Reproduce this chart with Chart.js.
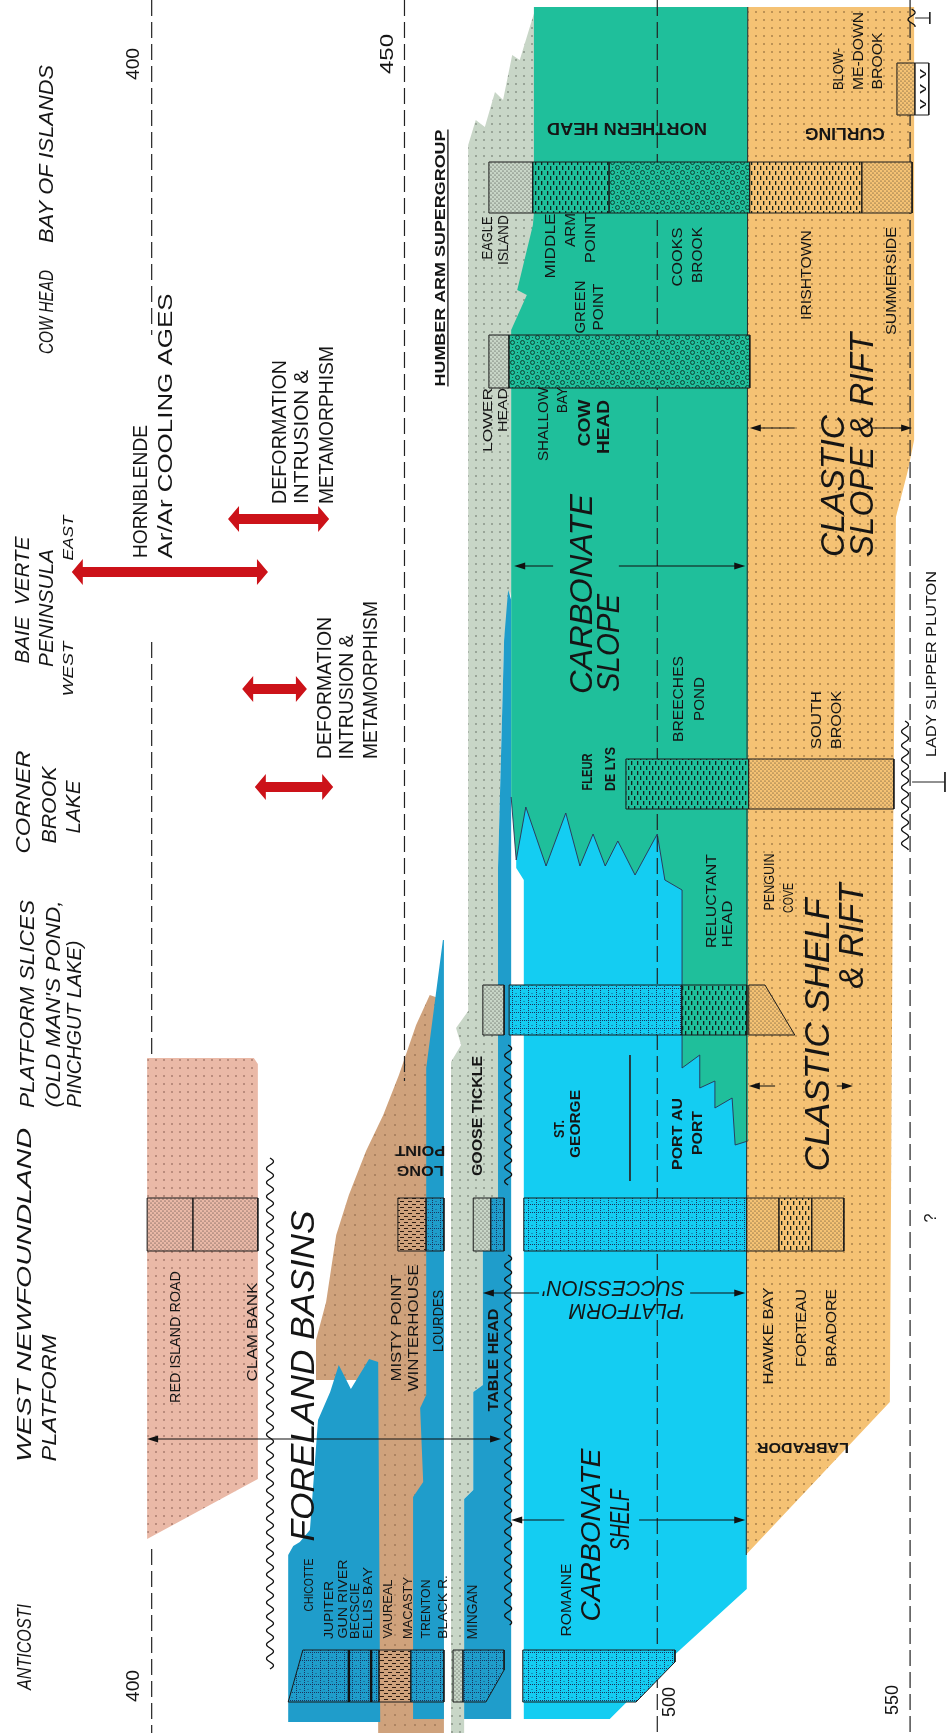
<!DOCTYPE html>
<html>
<head>
<meta charset="utf-8">
<title>Stratigraphic correlation chart</title>
<script src="https://cdn.jsdelivr.net/npm/chart.js@4.4.1/dist/chart.umd.min.js"></script>
<style>
html,body{margin:0;padding:0;background:#ffffff;}
#wrap{width:948px;height:1733px;position:relative;}
canvas{display:block;}
</style>
</head>
<body>
<div id="wrap"><canvas id="chart" width="948" height="1733"></canvas></div>
<script>
// ================= DATA =================
// x = age (Ma), y = position across the correlation panel (column axis, 0 = Anticosti side)
const AGE_TICKS = [400, 450, 500, 550];

// facies belts: [age, column position]
const ORANGE_CLASTIC = [[517.9,172.6],[550.8,172.6],[550.8,129.3],[549.6,126.3],[547.2,121.6],[546.6,86.5],[546.0,33.1],[517.5,17.8]];
const CYAN_SHELF = [[472.1,93.3],[517.7,93.3],[517.7,14.4],[502.3,7.3],[490.6,1.4],[473.6,1.4],[473.6,85.3],[472.1,86.5]];
const GREEN_SLOPE = [[475.6,172.6],[517.9,172.6],[517.9,59.2],[515.4,58.8],[514.8,63.5],[511.4,62.5],[511.4,65.2],[508.4,64.5],[508.4,67.8],[504.9,66.5],[504.9,84.3],[501.5,85.3],[500.0,89.9],[495.6,85.8],[492.2,89.2],[489.7,86.7],[487.3,89.9],[484.7,86.7],[481.9,92.0],[478.0,86.7],[474.0,92.6],[472.1,87.3],[471.1,93.6],[471.1,140.3],[474.2,143.8],[472.3,144.3],[475.4,150.8],[475.6,152.0]];
const GREY_FLYSCH = [[476.0,172.6],[472.8,167.3],[471.3,167.8],[469.5,163.3],[467.9,164.1],[465.9,160.6],[464.1,161.3],[462.6,158.8],[462.6,72.2],[460.2,70.5],[461.2,68.8],[459.2,67.1],[459.2,0],[461.8,0],[461.8,23.4],[463.6,24.3],[463.6,34.1],[465.5,34.8],[465.5,48.2],[468.5,48.8],[468.5,86.5],[469.7,109.3],[471.1,114.3],[471.1,139.3],[475.6,140.3]];
const BLUE_TABLEHEAD = [[470.5,114.3],[471.1,113.3],[471.1,1.4],[461.8,1.4],[461.8,23.4],[463.6,24.3],[463.6,34.1],[465.5,34.8],[465.5,48.2],[468.5,48.8],[468.5,86.5],[469.7,109.3]];
const BLUE_LONGPOINT = [[457.6,79.3],[457.8,79.3],[457.8,1.4],[451.7,1.4],[451.7,23.6],[453.7,25.1],[453.1,32.5],[454.3,33.8],[454.3,66.5]];
const BROWN_FORELAND = [[455.0,73.8],[457.8,73.3],[457.8,0],[444.8,0],[444.4,35.3],[432.5,35.3],[432.5,39.3],[434.5,43.1],[436.5,49.8],[439.0,53.8],[442.4,58.2],[445.8,61.8],[448.9,65.8],[452.3,70.8]];
const BLUE_ANTICOSTI = [[427.0,1.1],[427.0,17.8],[428.0,18.7],[429.3,19.1],[431.3,20.3],[432.9,31.3],[435.3,34.1],[437.0,36.8],[439.4,34.4],[443.0,37.4],[444.8,37.1],[445.2,1.1]];
const PINK_REDISLAND = [[399.1,67.5],[420.2,67.5],[421.0,66.9],[421.0,25.4],[399.1,19.4]];

// stratigraphic column bars: lane [top, bottom] and segments [ageFrom, ageTo, lithology]
const LANE_BAY = [157.1,152.0];
const LANE_COW = [139.8,134.5];
const LANE_CORNER = [97.4,92.4];
const LANE_SLICES = [74.8,69.8];
const LANE_WNP = [53.5,48.2];
const LANE_ANTI = [8.3,3.1];
const BAR_BAY = [[466.7,475.4,'dGrey'],[475.4,490.5,'dashG'],[490.5,518.3,'circ'],[518.3,540.5,'dashO'],[540.5,550.4,'dOrange']];
const BAR_COW = [[466.7,470.7,'dGrey'],[470.7,518.3,'circ']];
const BAR_CORNER = [[493.8,518.1,'dashG'],[518.1,546.8,'dOrange']];
const BAR_SLICES = [[465.5,469.7,'dGrey'],[470.7,504.9,'gridC'],[504.9,517.7,'dashG']];
const BAR_SLICES_WEDGE = [[518.1,74.8],[521.3,74.8],[527.2,69.8],[518.1,69.8]];
const BAR_WNP = [[399.1,408.2,'dPink'],[408.2,421.0,'dPink'],[448.7,454.3,'dashBr'],[454.3,457.8,'gridB'],[463.6,467.1,'dGrey'],[467.1,469.7,'gridB'],[473.6,517.7,'gridC'],[517.7,524.1,'dOrange'],[524.1,530.6,'dashO'],[530.6,536.9,'dOrange']];
const BAR_ANTI = [[445.0,451.3,'dashBr'],[451.3,457.8,'gridB'],[459.6,461.6,'dGrey']];
const BAR_ANTI_WEST = [[429.9,8.3],[445.0,8.3],[445.0,3.1],[427.0,3.1]];
const BAR_ANTI_MINGAN = [[461.6,8.3],[469.7,8.3],[469.7,6.3],[466.1,3.1],[461.6,3.1]];
const BAR_ANTI_ROMAINE = [[473.4,8.3],[503.5,8.3],[503.5,7.1],[495.8,3.1],[473.4,3.1]];
const ANTI_THICK = [439.0, 443.4];

// dashed age lines: age -> list of [yFrom, yTo]
const AGE_LINE_SPANS = {400:[[173.3,139.8],[109.1,67.5],[18.4,0]], 450:[[173.3,65.2]], 500:[[173.3,0]], 550:[[173.3,0]]};

// red event arrows: [ageFrom, ageTo, column]
const RED_ARROWS = [[384.2,423.0,116.1],[415.1,435.1,121.4],[417.9,430.7,104.4],[420.4,435.9,94.6]];
// black span arrows: [ageFrom, ageTo, column, gapFrom, gapTo]
const SPAN_ARROWS = [[399.1,469.1,29.4,null,null],[471.1,517.4,21.3,481.6,496.4],[465.5,517.4,44.0,476.6,506.5],[471.7,517.4,116.7,479.4,492.4],[518.1,538.7,64.7,523.3,535.5],[518.3,550.4,130.5,527.2,542.5]];
// unconformities (wavy): [age, yFrom, yTo]
const UNCONFORMITIES = [[423.4,57.5,6.4],[470.5,68.8,54.8],[470.5,47.8,10.8],[549.0,101.2,88.2],[550.3,172.4,170.6]];
// formation boundary: [age, yFrom, yTo]
const BOUNDARIES = [[494.6,67.8,55.2]];

// ================= STYLE =================
const COL = {orange:'#f5c274', green:'#1fbf9b', cyan:'#14cdf2', blue:'#1f9dcb', grey:'#c8d6c7', brown:'#cfa27c', pink:'#eab9a7', red:'#cc1219'};
function mk(w,h,paint){const c=document.createElement('canvas');c.width=w;c.height=h;const g=c.getContext('2d');paint(g);return g.createPattern(c,'repeat');}
function dot(g,x,y,r){g.beginPath();g.arc(x,y,r,0,Math.PI*2);g.fill();}
function sparse(bg,ink,s){return mk(s,s,g=>{g.fillStyle=bg;g.fillRect(0,0,s,s);g.fillStyle=ink;dot(g,s/2,s/2,0.8);});}
function dense(bg){return mk(4,4,g=>{g.fillStyle=bg;g.fillRect(0,0,4,4);g.fillStyle='rgba(30,30,30,0.85)';dot(g,1,1,0.6);dot(g,3,3,0.6);});}
function grid(bg){return mk(8,8,g=>{g.fillStyle=bg;g.fillRect(0,0,8,8);g.fillStyle='#1b3560';for(let i=0;i<8;i+=2){g.fillRect(0,i,1,1);g.fillRect(i,4,1,1);}dot(g,4,1.5,0.5);});}
function dashV(bg){return mk(6,10,g=>{g.fillStyle=bg;g.fillRect(0,0,6,10);g.fillStyle='#13201c';g.fillRect(1,1,1.3,4);g.fillRect(4,6,1.3,4);});}
const PAT = {
  orange: sparse(COL.orange,'rgba(90,60,30,0.8)',8),
  grey: sparse(COL.grey,'rgba(60,70,60,0.75)',8),
  pink: sparse(COL.pink,'rgba(90,50,40,0.75)',8),
  brown: sparse(COL.brown,'rgba(80,50,30,0.6)',10),
  dGrey: dense(COL.grey), dOrange: dense(COL.orange), dPink: dense(COL.pink),
  dashG: dashV(COL.green), dashO: dashV(COL.orange),
  dashBr: mk(8,6,g=>{g.fillStyle=COL.brown;g.fillRect(0,0,8,6);g.fillStyle='#2a1a10';g.fillRect(0,1,4,1);g.fillRect(4,4,4,1);}),
  circ: mk(10,10,g=>{g.fillStyle=COL.green;g.fillRect(0,0,10,10);g.strokeStyle='#0f352a';g.lineWidth=0.9;g.beginPath();g.arc(2.5,2.5,2,0,7);g.stroke();g.beginPath();g.arc(7.5,7.5,2,0,7);g.stroke();g.fillStyle='#0f352a';dot(g,7.5,2.5,0.5);dot(g,2.5,7.5,0.5);}),
  gridC: grid(COL.cyan), gridB: grid(COL.blue)
};

// ================= DATASETS =================
const datasets = [];
function toXY(pts){return pts.map(p=>({x:p[0],y:p[1]}));}
function poly(pts,bg,border){const d=toXY(pts);d.push({x:pts[0][0],y:pts[0][1]});
  datasets.push({data:d,backgroundColor:bg,borderColor:border?'#1a1a1a':'rgba(0,0,0,0)',borderWidth:border?1:0,fill:'shape',pointRadius:0,tension:0});}
function line(pts,color,width,dash){datasets.push({data:toXY(pts),borderColor:color,borderWidth:width,borderDash:dash||[],fill:false,pointRadius:0,tension:0});}
function bar(lane,segs){segs.forEach(s=>poly([[s[0],lane[0]],[s[1],lane[0]],[s[1],lane[1]],[s[0],lane[1]]],PAT[s[2]],true));}

poly(ORANGE_CLASTIC,PAT.orange);
poly(PINK_REDISLAND,PAT.pink);
poly(BROWN_FORELAND,PAT.brown);
poly(BLUE_ANTICOSTI,COL.blue);
poly(BLUE_LONGPOINT,COL.blue);
poly(GREY_FLYSCH,PAT.grey);
poly(BLUE_TABLEHEAD,COL.blue);
poly(CYAN_SHELF,COL.cyan);
poly(GREEN_SLOPE,COL.green);
line(GREEN_SLOPE.slice(2,23),'#2b2f55',0.9);
line([[517.9,172.6],[517.6,17.8]],'#2a2a2a',1);
BOUNDARIES.forEach(b=>line([[b[0],b[1]],[b[0],b[2]]],'#2a2a2a',1));
AGE_TICKS.forEach(a=>AGE_LINE_SPANS[a].forEach(s=>line([[a,s[0]],[a,s[1]]],'#222',1.2,[16,6])));
bar(LANE_BAY,BAR_BAY);
bar(LANE_COW,BAR_COW);
bar(LANE_CORNER,BAR_CORNER);
bar(LANE_SLICES,BAR_SLICES);
poly(BAR_SLICES_WEDGE,PAT.dOrange,true);
bar(LANE_WNP,BAR_WNP);
poly(BAR_ANTI_WEST,PAT.gridB,true);
bar(LANE_ANTI,BAR_ANTI);
poly(BAR_ANTI_MINGAN,PAT.gridB,true);
poly(BAR_ANTI_ROMAINE,PAT.gridC,true);
ANTI_THICK.forEach(a=>line([[a,LANE_ANTI[0]],[a,LANE_ANTI[1]]],'#111',2.4));
poly([[547.4,167.0],[551.0,167.0],[551.0,161.8],[547.4,161.8]],PAT.dOrange,true);
poly([[551.0,167.0],[553.7,167.0],[553.7,161.8],[551.0,161.8]],'#ffffff',true);
// pluton markers
line([[550.4,95.1],[556.9,95.1]],'#222',1);
line([[556.9,96.1],[556.9,94.1]],'#222',1);
line([[551.0,171.5],[553.9,171.5]],'#222',1);
line([[553.9,172.1],[553.9,170.9]],'#222',1);
datasets.forEach((d,i)=>{d.order=datasets.length-i;});

// ================= LABELS (annotation text) =================
const LABELS = [
 ['BAY OF ISLANDS',378.9,157.9,-90,21,'i',178],['COW HEAD',378.9,142.1,-90,21,'i',84],
 ['BAIE  VERTE',374.2,113.3,-90,21,'i',127],['PENINSULA',378.9,112.5,-90,21,'i',118],
 ['EAST',383.3,119.5,-90,15,'i',45],['WEST',383.3,106.4,-90,15,'i',55],
 ['CORNER',374.5,93.1,-90,21,'i',103],['BROOK',379.5,92.8,-90,21,'i',77],['LAKE',384.4,92.6,-90,21,'i',53],
 ['PLATFORM SLICES',375.3,72.9,-90,21,'i',208],["(OLD MAN'S POND,",380.3,72.9,-90,21,'i',207],['PINCHGUT LAKE)',384.6,70.9,-90,21,'i',167],
 ['WEST NEWFOUNDLAND',374.7,43.8,-90,21,'i',334],['PLATFORM',379.5,33.5,-90,21,'i',127],
 ['ANTICOSTI',374.7,8.6,-90,21,'i',86],
 ['HORNBLENDE',397.7,124.15,-90,20,'',133],['Ar/Ar COOLING AGES',402.6,130.7,-90,20,'',265],
 ['DEFORMATION',425.2,130.1,-90,20,'',144],['INTRUSION &',429.5,129.6,-90,20,'',134],['METAMORPHISM',434.5,130.8,-90,20,'',158],
 ['DEFORMATION',434.1,104.5,-90,20,'',142],['INTRUSION &',438.4,103.6,-90,20,'',125],['METAMORPHISM',443.2,105.3,-90,20,'',158],
 ['HUMBER ARM SUPERGROUP',457.0,147.5,-90,15,'bu',257],
 ['EAGLE',466.3,149.5,-90,14,'',43],['ISLAND',469.5,149.3,-90,14,'',50],
 ['MIDDLE',478.8,148.7,-90,14,'',65],['ARM',482.7,150.3,-90,14,'',34],['POINT',486.7,149.5,-90,14,'',50],
 ['GREEN',484.7,142.6,-90,14,'',53],['POINT',488.3,142.6,-90,14,'',47],
 ['LOWER',466.3,131.3,-90,13,'',64],['HEAD',469.3,132.3,-90,13,'',44],
 ['SHALLOW',477.4,130.9,-90,14,'',74],['BAY',481.2,133.3,-90,14,'',26],
 ['COW',485.5,131.0,-90,16,'b',47],['HEAD',489.3,130.6,-90,16,'b',54],
 ['CARBONATE',484.9,113.9,-90,32,'i',200],['SLOPE',490.1,109.0,-90,32,'i',98],
 ['FLEUR',486.1,96.1,-90,15,'b',37],['DE LYS',490.6,96.4,-90,15,'b',44],
 ['BREECHES',504.1,103.4,-90,15,'',86],['POND',508.1,103.4,-90,15,'',44],
 ['SOUTH',531.4,101.3,-90,15,'',58],['BROOK',535.2,101.3,-90,15,'',58],
 ['LADY SLIPPER PLUTON',554.1,106.9,-90,15,'',186],
 ['CLASTIC',534.6,124.7,-90,34,'i',142],['SLOPE & RIFT',540.3,128.8,-90,34,'i',224],
 ['IRISHTOWN',529.4,145.8,-90,15,'',90],['SUMMERSIDE',546.2,145.2,-90,15,'',108],
 ['CURLING',537.1,159.9,180,16,'b',80],['NORTHERN HEAD',494.0,160.4,180,17,'b',160],
 ['BLOW-',535.7,166.4,-90,14,'',42],['ME-DOWN',539.7,168.2,-90,14,'',78],['BROOK',543.5,167.2,-90,14,'',57],
 ['COOKS',503.9,147.6,-90,15,'',59],['BROOK',507.7,147.8,-90,15,'',56],
 ['GOOSE TICKLE',464.3,61.7,-90,15,'b',120],
 ['POINT',453.1,58.2,180,14,'b',50],['LONG',453.1,56.2,180,14,'b',47],
 ['ST.',480.4,60.4,-90,15,'b',18],['GEORGE',483.7,60.9,-90,15,'b',68],
 ['PORT AU',503.9,59.9,-90,15,'b',72],['PORT',507.7,60.0,-90,15,'b',44],
 ['RELUCTANT',510.6,83.2,-90,14,'',94],['HEAD',513.8,80.9,-90,14,'',47],
 ['PENGUIN',522.1,85.1,-90,14,'',57],['COVE',525.9,83.5,-90,14,'',30],
 ['CLASTIC SHELF',531.4,69.8,-90,35,'i',273],['& RIFT',538.1,79.7,-90,35,'i',105],
 ["SUCCESSION'",491.4,44.4,180,22,'i',142],["'PLATFORM",494.0,42.1,180,22,'i',116],
 ['CARBONATE',486.7,19.8,-90,28,'i',173],['SHELF',492.4,21.3,-90,28,'i',61],
 ['ROMAINE',482.0,13.3,-90,14,'',73],
 ['HAWKE BAY',521.9,39.7,-90,15,'',97],['FORTEAU',528.4,40.5,-90,15,'',78],['BRADORE',534.2,40.5,-90,15,'',78],
 ['LABRADOR',528.8,28.5,180,15,'b',92],
 ['RED ISLAND ROAD',404.6,39.6,-90,14,'',132],['CLAM BANK',419.8,40.1,-90,14,'',99],
 ['FORELAND BASINS',429.7,35.7,-90,33,'i',331],
 ['MISTY POINT',448.3,40.5,-90,14,'',107],['WINTERHOUSE',451.7,40.5,-90,14,'',127],['LOURDES',456.6,41.2,-90,14,'',62],
 ['TABLE HEAD',467.5,37.3,-90,15,'b',103],['MINGAN',463.4,12.1,-90,14,'',55],
 ['VAUREAL',446.7,12.4,-90,13,'',59],['MACASTY',450.5,12.5,-90,13,'',62],['TRENTON',454.1,12.4,-90,13,'',59],['BLACK R.',457.4,12.6,-90,13,'',64],
 ['JUPITER',434.9,12.3,-90,13,'',58],['GUN RIVER',437.8,13.4,-90,13,'',79],['BECSCIE',440.0,12.2,-90,13,'',56],['ELLIS BAY',442.6,13.0,-90,13,'',72],
 ['CHICOTTE',430.9,14.8,-90,13,'',53],
 ['?',553.9,51.5,-90,16,'',0],['v v v',552.4,164.4,-90,11,'',40]
];
const TICK_LABELS = [[400,166.9,32],[450,167.9,40],[400,4.7,32],[500,3.1,30],[550,3.3,30]];
const TICK_OFFSET = {400:-3.9,450:-3.7,500:2.1,550:-3.8};

// ================= DRAWING PLUGIN =================
const FONT = '"Liberation Sans", Arial, Helvetica, sans-serif';
function drawLabel(ctx,t,px,py,rot,size,st,len){
  ctx.save();ctx.translate(px,py);ctx.rotate(rot*Math.PI/180);
  ctx.font=(st.includes('i')?'italic ':'')+(st.includes('b')?'bold ':'')+size+'px '+FONT;
  ctx.fillStyle='#151515';ctx.textAlign='center';ctx.textBaseline='alphabetic';
  const w=ctx.measureText(t).width;const k=len?len/w:1;ctx.scale(k,1);
  const by=size*0.36;ctx.fillText(t,0,by);
  if(st.includes('u')){ctx.fillRect(-w/2,by+2,w,1.3);}
  ctx.restore();
}
const overlay = {
  id:'overlay',
  afterDatasetsDraw(chart){
    const ctx=chart.ctx, xs=chart.scales.x, ys=chart.scales.y;
    const X=v=>xs.getPixelForValue(v), Y=v=>ys.getPixelForValue(v);
    ctx.save();
    // red double arrows
    ctx.fillStyle=COL.red;
    RED_ARROWS.forEach(([a0,a1,c])=>{const x0=X(a0),x1=X(a1),y=Y(c),hl=11,hw=13,sw=5;
      ctx.beginPath();ctx.moveTo(x0,y);ctx.lineTo(x0+hl,y-hw);ctx.lineTo(x0+hl,y-sw);ctx.lineTo(x1-hl,y-sw);ctx.lineTo(x1-hl,y-hw);
      ctx.lineTo(x1,y);ctx.lineTo(x1-hl,y+hw);ctx.lineTo(x1-hl,y+sw);ctx.lineTo(x0+hl,y+sw);ctx.lineTo(x0+hl,y+hw);ctx.closePath();ctx.fill();});
    // black span arrows
    ctx.strokeStyle='#111';ctx.fillStyle='#111';ctx.lineWidth=1.2;
    SPAN_ARROWS.forEach(([a0,a1,c,g0,g1])=>{const x0=X(a0),x1=X(a1),y=Y(c);
      ctx.beginPath();
      if(g0===null){ctx.moveTo(x0+8,y);ctx.lineTo(x1-8,y);}else{ctx.moveTo(x0+8,y);ctx.lineTo(X(g0),y);ctx.moveTo(X(g1),y);ctx.lineTo(x1-8,y);}
      ctx.stroke();
      ctx.beginPath();ctx.moveTo(x0,y);ctx.lineTo(x0+11,y-3.5);ctx.lineTo(x0+11,y+3.5);ctx.closePath();ctx.fill();
      ctx.beginPath();ctx.moveTo(x1,y);ctx.lineTo(x1-11,y-3.5);ctx.lineTo(x1-11,y+3.5);ctx.closePath();ctx.fill();});
    // unconformities
    ctx.lineWidth=1.3;ctx.strokeStyle='#111';
    UNCONFORMITIES.forEach(([a,y0,y1])=>{const x=X(a),p0=Y(y0),p1=Y(y1);ctx.beginPath();
      for(let p=p0;p<=p1;p+=1){const dx=3.5*Math.sin((p-p0)/14*2*Math.PI);if(p===p0)ctx.moveTo(x+dx,p);else ctx.lineTo(x+dx,p);}ctx.stroke();});
    ctx.restore();
    // text
    LABELS.forEach(L=>drawLabel(ctx,L[0],X(L[1]),Y(L[2]),L[3],L[4],L[5],L[6]));
    TICK_LABELS.forEach(([a,c,len])=>drawLabel(ctx,String(a),X(a+TICK_OFFSET[a]),Y(c),-90,19,'',len));
  }
};

new Chart(document.getElementById('chart'),{
  type:'line',
  data:{datasets},
  options:{
    responsive:false,animation:false,devicePixelRatio:1,events:[],
    layout:{padding:0},
    plugins:{legend:{display:false},tooltip:{enabled:false},filler:{propagate:false}},
    scales:{
      x:{type:'linear',min:370,max:557.5,display:false},
      y:{type:'linear',min:0,max:173.3,display:false}
    },
    elements:{line:{tension:0}}
  },
  plugins:[overlay]
});
</script>
</body>
</html>
